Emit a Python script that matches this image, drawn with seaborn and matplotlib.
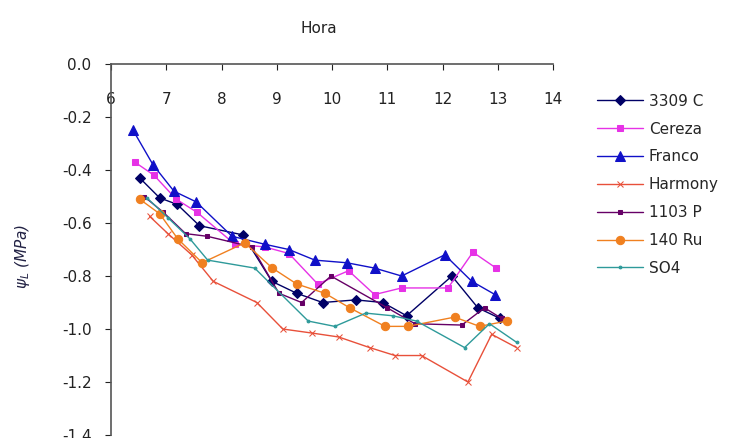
import pandas as pd
import matplotlib
matplotlib.use("Agg")
import matplotlib.pyplot as plt
import seaborn as sns

# datos: hora del día y potencial hídrico foliar (MPa)
series = ["3309 C", "Cereza", "Franco", "Harmony", "1103 P", "140 Ru", "SO4"]

hora_3309 = [6.52, 6.88, 7.2, 7.6, 8.39, 8.91, 9.36, 9.83, 10.43, 10.92, 11.35, 12.17, 12.64, 13.04]
psi_3309 = [-0.43, -0.505, -0.53, -0.61, -0.645, -0.82, -0.865, -0.90, -0.89, -0.90, -0.95, -0.80, -0.92, -0.96]

hora_cereza = [6.43, 6.78, 7.18, 7.56, 8.24, 8.78, 9.22, 9.74, 10.3, 10.77, 11.26, 12.1, 12.55, 12.97]
psi_cereza = [-0.37, -0.42, -0.51, -0.56, -0.68, -0.69, -0.715, -0.83, -0.78, -0.87, -0.845, -0.845, -0.71, -0.77]

hora_franco = [6.4, 6.76, 7.14, 7.54, 8.19, 8.78, 9.22, 9.69, 10.27, 10.77, 11.26, 12.04, 12.53, 12.95]
psi_franco = [-0.25, -0.38, -0.48, -0.52, -0.65, -0.68, -0.70, -0.74, -0.75, -0.77, -0.80, -0.72, -0.82, -0.87]

hora_harmony = [6.7, 7.03, 7.46, 7.85, 8.64, 9.11, 9.63, 10.12, 10.68, 11.14, 11.62, 12.46, 12.89, 13.34]
psi_harmony = [-0.575, -0.64, -0.72, -0.82, -0.90, -1.0, -1.015, -1.03, -1.07, -1.10, -1.10, -1.20, -1.02, -1.07]

hora_1103 = [6.6, 6.95, 7.35, 7.74, 8.55, 9.04, 9.45, 9.98, 11.0, 11.5, 12.35, 12.76, 13.07]
psi_1103 = [-0.50, -0.56, -0.64, -0.65, -0.69, -0.865, -0.90, -0.80, -0.92, -0.98, -0.985, -0.92, -0.96]

hora_140 = [6.52, 6.88, 7.21, 7.65, 8.42, 8.92, 9.36, 9.87, 10.32, 10.96, 11.37, 12.22, 12.67, 13.16]
psi_140 = [-0.51, -0.565, -0.66, -0.75, -0.675, -0.77, -0.83, -0.865, -0.92, -0.99, -0.99, -0.955, -0.99, -0.97]

hora_so4 = [6.65, 7.03, 7.43, 7.75, 8.6, 9.57, 10.05, 10.61, 11.1, 11.53, 12.4, 12.85, 13.34]
psi_so4 = [-0.505, -0.58, -0.66, -0.74, -0.77, -0.97, -0.99, -0.94, -0.95, -0.97, -1.07, -0.98, -1.05]

horas = [hora_3309, hora_cereza, hora_franco, hora_harmony, hora_1103, hora_140, hora_so4]
psis = [psi_3309, psi_cereza, psi_franco, psi_harmony, psi_1103, psi_140, psi_so4]

colores = ["#000066", "#E632E6", "#1010C8", "#E8503A", "#660066", "#F08020", "#2E9A9A"]
marcadores = ["D", "s", "^", "x", "s", "o", "."]
tamanos = [5, 5, 7, 5, 3, 6, 4]

sns.set_style("white")
plt.rcParams["font.family"] = ["DejaVu Sans"]
plt.rcParams["axes.unicode_minus"] = False

fig = plt.figure(figsize=(7.42, 4.38), dpi=100)
ax = fig.add_axes([0.1496, 0.0068, 0.5957, 0.8470])

for i, nombre in enumerate(series):
    df = pd.DataFrame({"Hora": horas[i], "Psi": psis[i]})
    sns.lineplot(data=df, x="Hora", y="Psi", sort=False, ax=ax, color=colores[i],
                 marker=marcadores[i], markersize=tamanos[i], markeredgecolor=colores[i],
                 linewidth=1.0, label=nombre)

ax.set_xlim(6, 14)
ax.set_ylim(-1.4, 0.0)
ax.set_xticks(range(6, 15))
ax.set_yticks([0.0, -0.2, -0.4, -0.6, -0.8, -1.0, -1.2, -1.4])
ax.set_yticklabels(["0.0", "-0.2", "-0.4", "-0.6", "-0.8", "-1.0", "-1.2", "-1.4"])

for lado in ["bottom", "right"]:
    ax.spines[lado].set_visible(False)
for lado in ["top", "left"]:
    ax.spines[lado].set_color("#555555")
    ax.spines[lado].set_linewidth(1.2)

ax.xaxis.tick_top()
ax.tick_params(axis="x", top=True, bottom=False, labeltop=True, labelbottom=False,
               direction="in", length=4, pad=-31, labelsize=11, colors="#222222")
ax.tick_params(axis="y", left=True, direction="out", length=4, labelsize=11, colors="#222222", pad=10)

ax.set_xlabel("")
ax.set_ylabel("")
fig.text(0.43, 0.935, "Hora", ha="center", va="center", fontsize=11, color="#222222")
fig.text(0.03, 0.415, r"$\psi_L$ (MPa)", rotation=90, ha="center", va="center",
         fontsize=11, color="#222244", style="italic")

ax.legend(loc="upper left", bbox_to_anchor=(1.068, 0.957), frameon=False, fontsize=11,
          handlelength=3.0, handletextpad=0.4, labelspacing=0.84)

fig.savefig("out.png", dpi=100)
